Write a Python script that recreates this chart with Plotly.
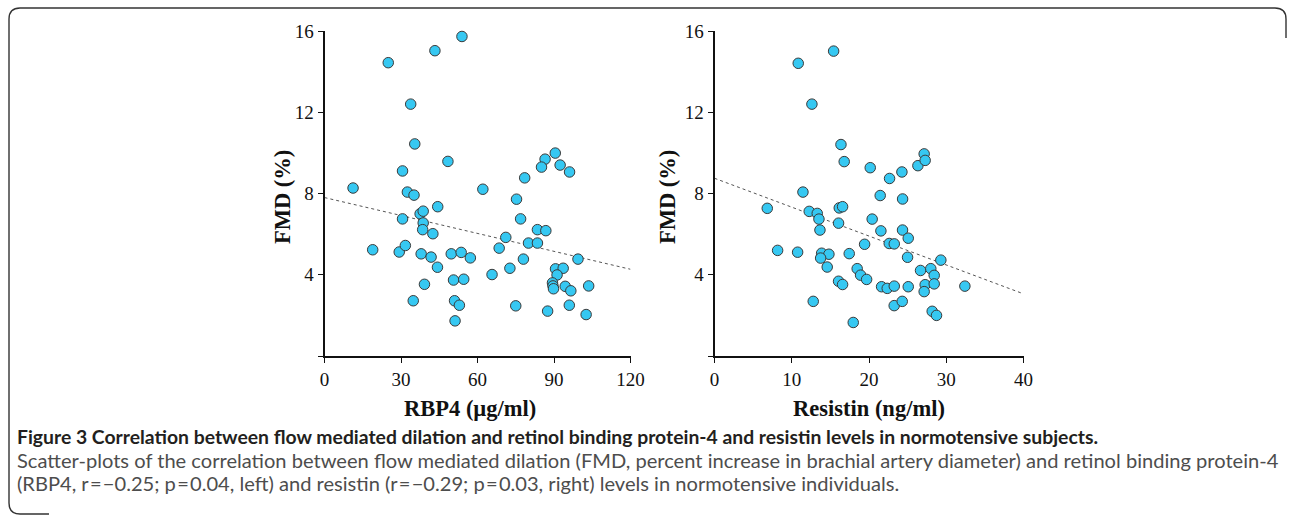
import plotly.graph_objects as go

W, H = 1290, 516

# ---- data ----
rbp4 = [11.2, 25.0, 43.3, 53.9, 33.8, 35.4, 48.4, 30.6, 32.5, 35.1,
        90.5, 86.5, 85.1, 92.4, 96.1, 78.5, 62.1, 75.3,
        44.4, 37.5, 38.7, 30.6, 38.7, 38.5, 42.5, 18.9, 29.3, 31.7, 37.9, 41.8,
        44.3, 49.7, 53.6, 57.2, 50.6, 39.2, 34.8, 51.0, 52.9, 51.2,
        76.9, 83.5, 86.8, 71.1, 80.0, 83.5, 68.5, 78.0, 99.4, 72.7, 65.7,
        90.6, 93.6, 91.2, 54.6, 89.4, 89.6, 89.8, 94.4, 96.6, 103.6,
        75.0, 96.0, 87.5, 102.6]
fmd_left = [8.27, 14.44, 15.03, 15.73, 12.40, 10.44, 9.58, 9.11, 8.07, 7.92,
            9.99, 9.69, 9.30, 9.40, 9.06, 8.77, 8.21, 7.72,
            7.35, 7.00, 7.13, 6.75, 6.55, 6.22, 6.02, 5.23, 5.12, 5.44, 5.03, 4.87,
            4.37, 5.03, 5.10, 4.83, 3.74, 3.53, 2.72, 2.72, 2.50, 1.73,
            6.75, 6.22, 6.17, 5.84, 5.56, 5.56, 5.31, 4.77, 4.77, 4.32, 4.01,
            4.29, 4.32, 3.99, 3.78, 3.60, 3.45, 3.31, 3.43, 3.21, 3.45,
            2.47, 2.50, 2.21, 2.04]

resistin = [10.84, 15.42, 12.61, 16.37, 16.79, 11.45,
            20.16, 22.66, 24.26, 26.33, 27.14, 27.27, 21.45, 24.35,
            6.83, 12.26, 13.30, 13.52, 13.65, 16.15, 16.58, 16.06,
            8.17, 10.76, 13.87, 14.81, 13.74, 14.59, 17.44, 16.06, 16.58, 12.78,
            20.41, 21.54, 24.34, 25.08, 22.62, 23.27, 19.43, 24.99, 29.30,
            18.47, 18.91, 19.69, 26.67, 28.00, 28.44,
            21.63, 22.36, 23.27, 25.08, 27.27, 27.14, 28.44, 32.41,
            23.26, 24.30, 28.18, 28.74, 17.96]
fmd_right = [14.41, 15.01, 12.40, 10.41, 9.57, 8.07,
             9.27, 8.74, 9.06, 9.37, 9.95, 9.63, 7.90, 7.73,
             7.27, 7.12, 7.02, 6.74, 6.20, 7.29, 7.35, 6.54,
             5.20, 5.11, 5.06, 5.01, 4.82, 4.38, 5.04, 3.68, 3.52, 2.69,
             6.74, 6.16, 6.20, 5.80, 5.54, 5.52, 5.50, 4.86, 4.72,
             4.30, 3.98, 3.77, 4.21, 4.30, 3.97,
             3.41, 3.33, 3.44, 3.41, 3.51, 3.17, 3.55, 3.44,
             2.48, 2.69, 2.20, 2.00, 1.65]

trend_left_x = [0, 120]
trend_left_y = [7.80, 4.27]
trend_right_x = [0, 40]
trend_right_y = [8.75, 3.06]

x_ticks_left = [0, 30, 60, 90, 120]
x_ticks_right = [0, 10, 20, 30, 40]
y_ticks = [0, 4, 8, 12, 16]
y_ticktext = ["", "4", "8", "12", "16"]

caption_title = ("Figure 3 Correlation between flow mediated dilation and retinol binding "
                 "protein-4 and resistin levels in normotensive subjects.")
caption_l2 = ("Scatter-plots of the correlation between flow mediated dilation (FMD, percent "
              "increase in brachial artery diameter) and retinol binding protein-4")
caption_l3 = ("(RBP4, r\u200a=\u200a\u22120.25; p\u200a=\u200a0.04, left) and resistin "
              "(r\u200a=\u200a\u22120.29; p\u200a=\u200a0.03, right) levels in normotensive individuals.")

# ---- figure ----
MARK = dict(size=10.5, color="#36c8f2", line=dict(color="#3a3a3a", width=1))
fig = go.Figure()
fig.add_trace(go.Scatter(x=trend_left_x, y=trend_left_y, mode="lines",
                         line=dict(color="#555555", width=1, dash="dot"),
                         xaxis="x", yaxis="y", hoverinfo="skip"))
fig.add_trace(go.Scatter(x=rbp4, y=fmd_left, mode="markers", marker=MARK,
                         xaxis="x", yaxis="y", cliponaxis=False))
fig.add_trace(go.Scatter(x=trend_right_x, y=trend_right_y, mode="lines",
                         line=dict(color="#555555", width=1, dash="dot"),
                         xaxis="x2", yaxis="y2", hoverinfo="skip"))
fig.add_trace(go.Scatter(x=resistin, y=fmd_right, mode="markers", marker=MARK,
                         xaxis="x2", yaxis="y2", cliponaxis=False))

def px(v):
    return v / W

def py(v):
    return 1 - v / H

tickfont = dict(family="Liberation Serif", size=19, color="#111111")
axcommon = dict(showline=True, linecolor="#111111", linewidth=1.8, ticks="outside",
                ticklen=5, tickwidth=1.3, tickcolor="#111111", showgrid=False,
                zeroline=False, tickfont=tickfont, automargin=False)

ydom = [py(356), py(31)]
fig.update_layout(
    template="none",
    width=W, height=H, showlegend=False,
    paper_bgcolor="white", plot_bgcolor="white",
    margin=dict(l=0, r=0, t=0, b=0, pad=0, autoexpand=False),
    xaxis=dict(domain=[px(324.5), px(630.5)], range=[0, 120], tickvals=x_ticks_left,
               anchor="y", **axcommon),
    yaxis=dict(domain=ydom, range=[0, 16], tickvals=y_ticks, ticktext=y_ticktext,
               anchor="x", **axcommon),
    xaxis2=dict(domain=[px(714.5), px(1023.5)], range=[0, 40], tickvals=x_ticks_right,
                anchor="y2", **axcommon),
    yaxis2=dict(domain=ydom, range=[0, 16], tickvals=y_ticks, ticktext=y_ticktext,
                anchor="x2", **axcommon),
)

titlefont = dict(family="Liberation Serif", size=22.5, color="#111111")
ann = []
ann.append(dict(text="<b>RBP4 (µg/ml)</b>", x=px(470), y=py(408), xref="paper", yref="paper",
                showarrow=False, font=titlefont, xanchor="center", yanchor="middle"))
ann.append(dict(text="<b>Resistin (ng/ml)</b>", x=px(869), y=py(408), xref="paper", yref="paper",
                showarrow=False, font=titlefont, xanchor="center", yanchor="middle"))
ann.append(dict(text="<b>FMD (%)</b>", x=px(282), y=py(197), xref="paper", yref="paper",
                showarrow=False, font=titlefont, textangle=-90, xanchor="center", yanchor="middle"))
ann.append(dict(text="<b>FMD (%)</b>", x=px(667), y=py(197), xref="paper", yref="paper",
                showarrow=False, font=titlefont, textangle=-90, xanchor="center", yanchor="middle"))
capfont = "Lato"
ann.append(dict(text="<b>" + caption_title + "</b>", x=px(15), y=py(436), xref="paper", yref="paper",
                showarrow=False, xanchor="left", yanchor="middle",
                font=dict(family=capfont, size=19.35, color="#231f20")))
ann.append(dict(text=caption_l2, x=px(15), y=py(460), xref="paper", yref="paper",
                showarrow=False, xanchor="left", yanchor="middle",
                font=dict(family=capfont, size=20.1, color="#4d4d4d")))
ann.append(dict(text=caption_l3, x=px(15), y=py(483), xref="paper", yref="paper",
                showarrow=False, xanchor="left", yanchor="middle",
                font=dict(family=capfont, size=20.1, color="#4d4d4d")))
fig.update_layout(annotations=ann)

# rounded panel frame (pixel coords converted to paper)
x0, y0, x1, y1, r = 9, 8, 1286, 514, 11
path = (f"M {x1},{y0+30} L {x1},{y0+r} Q {x1},{y0} {x1-r},{y0} "
        f"L {x0+r},{y0} Q {x0},{y0} {x0},{y0+r} L {x0},{y1-r} Q {x0},{y1} {x0+r},{y1} "
        f"L {x0+40},{y1}")

def conv(p):
    out = []
    for tok in p.split():
        if "," in tok:
            a, b = tok.split(",")
            out.append(f"{float(a)/W:.5f},{1-float(b)/H:.5f}")
        else:
            out.append(tok)
    return " ".join(out)

fig.add_shape(type="path", path=conv(path), xref="paper", yref="paper",
              line=dict(color="#333333", width=1.4), fillcolor="rgba(0,0,0,0)")

fig.write_html("out.html", config={"displayModeBar": False},
               post_script="document.body.style.margin='0';")
